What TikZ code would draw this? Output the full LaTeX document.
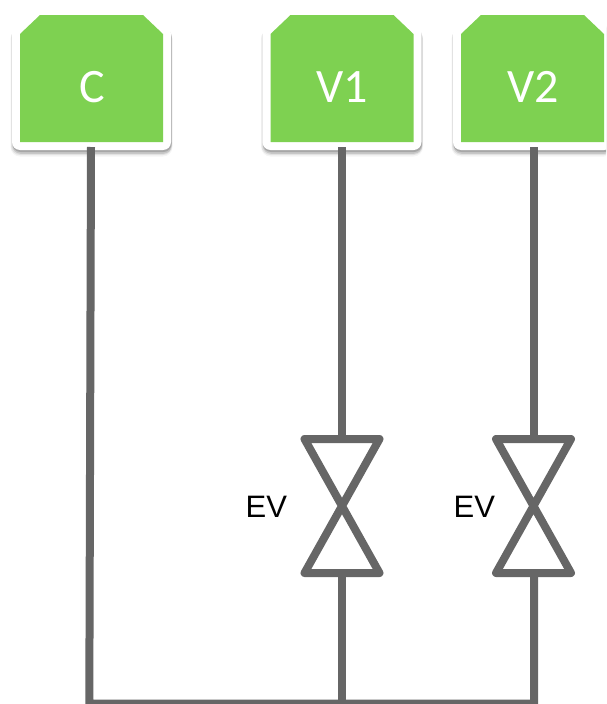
\documentclass[tikz,border=0pt]{standalone}
\usepackage{fontspec}
\setmainfont{Liberation Sans}
\newfontfamily\boxfont{Carlito}
\definecolor{tankgreen}{HTML}{7ED151}
\definecolor{pipegray}{HTML}{666666}
\tikzset{
  tankbody/.style={fill=tankgreen,
    preaction={draw=black, draw opacity=.04, line join=round, line width=19pt, transform canvas={yshift=-5pt}},
    preaction={draw=black, draw opacity=.08, line join=round, line width=18pt, transform canvas={yshift=-4pt}},
    preaction={draw=black, draw opacity=.12, line join=round, line width=16.5pt, transform canvas={yshift=-3.5pt,xshift=.5pt}},
    preaction={draw=black, draw opacity=.16, line join=round, line width=16pt, transform canvas={yshift=-2pt,xshift=.5pt}},
    preaction={draw=white, line join=round, line width=16pt}},
  tanklabel/.style={inner sep=0pt, text=white, font=\boxfont\fontsize{48}{48}\selectfont},
  pipe/.style={draw=pipegray, line width=8pt, line join=miter},
  valvebody/.style={draw=pipegray, line width=8pt, line join=round},
  valvelabel/.style={font=\fontsize{31}{31}\selectfont, text=black, inner sep=0pt}
}
\newcommand{\tankoutline}[1]{\path[tankbody,shift={(#1,0)}] (0,142) -- (0,34) -- (20,15) -- (123,15) -- (143,34) -- (143,142) -- cycle;}
\begin{document}
\begin{tikzpicture}[x=1pt,y=-1pt]
  \clip (0,0) rectangle (606,704);
  \tankoutline{20}
  \tankoutline{270.5}
  \tankoutline{461}
  \node[tanklabel] (C) at (92,87) {C};
  \node[tanklabel] (V1) at (342.5,87) {V1};
  \node[tanklabel] (V2) at (533,87) {V2};

  \coordinate (cs) at (91,147);
  \coordinate (v1s) at (342,147);
  \coordinate (v2s) at (534,147);
  \coordinate (v1t) at (342,439);
  \coordinate (v1b) at (342,573);
  \coordinate (v2t) at (534,439);
  \coordinate (v2b) at (534,573);
  \coordinate (cb) at (89.3,703.5);
  \coordinate (v1e) at (342,703.5);
  \coordinate (v2e) at (534,703.5);

  \draw[pipe] (cs) -- (cb) -- (v2e) -- (v2b);
  \draw[pipe] (v1e) -- (v1b);
  \draw[pipe] (v1s) -- (v1t);
  \draw[pipe] (v2s) -- (v2t);

  \draw[valvebody] (304.5,439) -- (379.5,439) -- (304.5,573) -- (379.5,573) -- cycle;
  \draw[valvebody] (496,439) -- (571,439) -- (496,573) -- (571,573) -- cycle;

  \node[valvelabel] (ev1) at (266.3,507) {EV};
  \node[valvelabel] (ev2) at (474.3,507) {EV};
\end{tikzpicture}
\end{document}
